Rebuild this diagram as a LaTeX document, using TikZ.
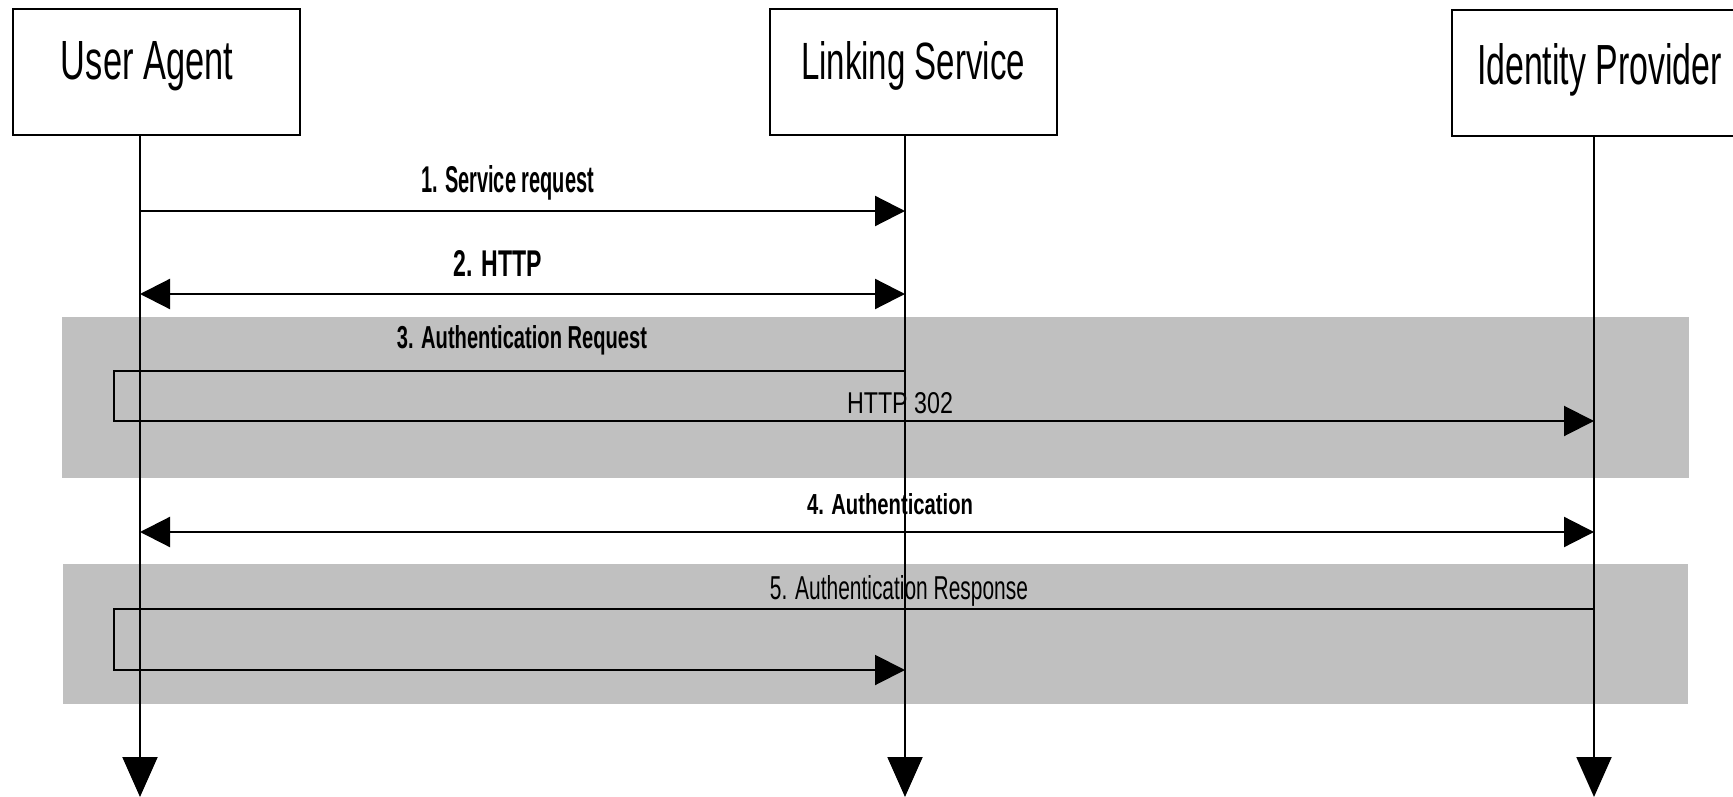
\documentclass[tikz,border=0pt]{standalone}
\usepackage{graphicx}
\usepackage{fontspec}
\setmainfont{Liberation Sans}
\usetikzlibrary{arrows.meta}
\newcommand{\rtext}[3]{\resizebox{#1pt}{#2pt}{#3}}
\definecolor{bandgray}{HTML}{C0C0C0}
\tikzset{
  actorbox/.style={draw=black, line width=2pt, fill=white, minimum width=287pt, minimum height=126pt, inner sep=0pt},
  txt/.style={anchor=base, inner sep=0pt, text=black},
  band/.style={fill=bandgray, draw=none},
  life/.style={line width=2pt, -{Triangle[length=40pt, width=35pt]}},
  msg/.style={line width=2.2pt, -{Triangle[length=30pt, width=30pt]}},
  dmsg/.style={line width=2.2pt, {Triangle[length=30pt, width=30pt]}-{Triangle[length=30pt, width=30pt]}},
  route/.style={line width=2pt, -{Triangle[length=30pt, width=30pt]}, line join=miter}
}
\begin{document}
\begin{tikzpicture}[x=1pt, y=-1pt]
\useasboundingbox (0,0) rectangle (1733,797);
\fill[white] (0,0) rectangle (1733,797);

% shaded bands
\path[band] (62,317) rectangle (1689,478);
\path[band] (63,564) rectangle (1688,704);

% actor boxes
\node[actorbox] (ua) at (156.5,72) {};
\node[actorbox] (ls) at (913,72) {};
\node[actorbox] (idp) at (1595.5,73) {};

% actor names
\node[txt] (uat) at (147,80) {\rtext{172}{38}{User Agent}};
\node[txt] (lst) at (913,80) {\rtext{224}{38}{Linking Service}};
\node[txt] (idpt) at (1599.5,85) {\rtext{245}{41}{Identity Provider}};

% message labels
\node[txt] (l1) at (507.5,192.5) {\rtext{173}{27}{\bfseries 1. Service request}};
\node[txt] (l2) at (498,276.5) {\rtext{88}{26}{\bfseries 2. HTTP}};
\node[txt] (l3) at (522,348) {\rtext{250}{23}{\bfseries 3. Authentication Request}};
\node[txt] (l3b) at (900,413) {\rtext{106}{21}{HTTP 302}};
\node[txt] (l4) at (890,514) {\rtext{166}{21}{\bfseries 4. Authentication}};
\node[txt] (l5) at (899,599) {\rtext{258}{24}{5. Authentication Response}};

% lifeline ends
\coordinate (uaend) at (140,797);
\coordinate (lsend) at (905,797);
\coordinate (idpend) at (1594,797);

% lifelines
\draw[life] (uaend |- ua.south) -- (uaend);
\draw[life] (lsend |- ls.south) -- (lsend);
\draw[life] (idpend |- idp.south) -- (idpend);

% message end points
\coordinate (m1a) at (140,211);  \coordinate (m1b) at (905,211);
\coordinate (m2a) at (140,294);  \coordinate (m2b) at (905,294);
\coordinate (m3a) at (905,371);  \coordinate (m3c1) at (114,371);
\coordinate (m3c2) at (114,421); \coordinate (m3b) at (1594,421);
\coordinate (m4a) at (140,532);  \coordinate (m4b) at (1594,532);
\coordinate (m5a) at (1594,609); \coordinate (m5c1) at (114,609);
\coordinate (m5c2) at (114,670); \coordinate (m5b) at (905,670);

% messages
\draw[msg] (m1a) -- (m1b);
\draw[dmsg] (m2a) -- (m2b);
\draw[route] (m3a) -- (m3c1) -- (m3c2) -- (m3b);
\draw[dmsg] (m4a) -- (m4b);
\draw[route] (m5a) -- (m5c1) -- (m5c2) -- (m5b);
\end{tikzpicture}
\end{document}
